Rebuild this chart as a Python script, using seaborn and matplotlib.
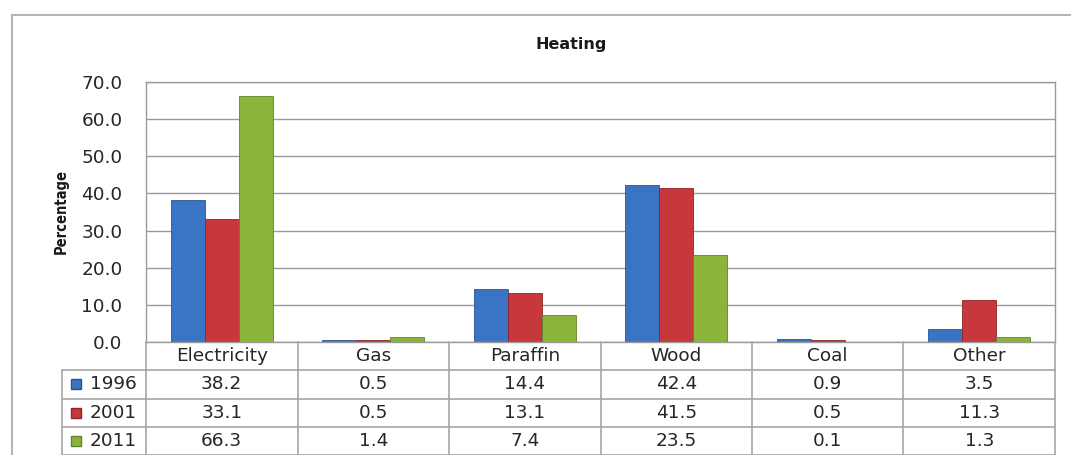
import matplotlib
matplotlib.use("Agg")
import matplotlib.pyplot as plt
import seaborn as sns
import pandas as pd
from matplotlib.patches import Rectangle

categories = ["Electricity", "Gas", "Paraffin", "Wood", "Coal", "Other"]
years = ["1996", "2001", "2011"]
v1996 = [38.2, 0.5, 14.4, 42.4, 0.9, 3.5]
v2001 = [33.1, 0.5, 13.1, 41.5, 0.5, 11.3]
v2011 = [66.3, 1.4, 7.4, 23.5, 0.1, 1.3]
yticks = [0, 10, 20, 30, 40, 50, 60, 70]
colors = ["#3b74c4", "#c6383b", "#8bb43a"]
edges = ["#2a5490", "#8e2426", "#63822a"]

series = [v1996, v2001, v2011]
df = pd.DataFrame({
    "category": categories * 3,
    "year": [y for y in years for _ in categories],
    "value": v1996 + v2001 + v2011,
})

sns.set_theme(style="white")
plt.rcParams["font.family"] = ["DejaVu Sans"]
W, H = 1071, 455
fig = plt.figure(figsize=(W / 100, H / 100), dpi=100)
FS = 13.3
TC = "#262626"

# outer frame
fig.patches.append(Rectangle((12 / W, -0.2), 1.2, 1 - 15 / H + 0.2, transform=fig.transFigure,
                             fill=False, edgecolor="#b5b5b5", linewidth=1.5))

px_l, px_r, px_t, px_b = 146, 1055, 82, 342
ax = fig.add_axes([px_l / W, 1 - px_b / H, (px_r - px_l) / W, (px_b - px_t) / H])
sns.barplot(data=df, x="category", y="value", hue="year", palette=colors, width=0.67,
            ax=ax, legend=False, saturation=1, edgecolor="none")
for i, cont in enumerate(ax.containers):
    for bar in cont:
        bar.set_edgecolor(edges[i])
        bar.set_linewidth(0.6)
ax.set_ylim(0, 70)
ax.set_xlim(-0.5, 5.5)
ax.set_yticks(yticks)
ax.set_yticklabels([f"{t:.1f}" for t in yticks], fontsize=FS, color=TC)
ax.set_xticks([])
ax.set_xlabel("")
ax.set_ylabel("")
ax.yaxis.grid(True, color="#9a9a9a", linewidth=1)
ax.set_axisbelow(True)
ax.tick_params(axis="y", length=0, pad=17)
for s in ax.spines.values():
    s.set_color("#9a9a9a")
    s.set_linewidth(1)

fig.text(571 / W, 1 - 45 / H, "Heating", ha="center", va="center", fontsize=11.5,
         fontweight="bold", color="#1a1a1a")
fig.text(61 / W, 1 - 212 / H, "Percentage", ha="center", va="center", rotation=90,
         fontsize=10.5, fontweight="bold", color="#1a1a1a", fontstretch="condensed")

# data table
cw = (px_r - px_l) / 6
left_col = (px_l - 62) / cw
xl = -0.5 - left_col
tax = fig.add_axes([62 / W, 0, (px_r - 62) / W, 1 - px_b / H])
tax.set_xlim(xl, 5.5)
tax.set_ylim(4, 0)
tax.axis("off")
lc = "#a6a6a6"
for r in range(1, 5):
    tax.plot([xl, 5.5], [r, r], color=lc, lw=1.2, clip_on=False)
tax.plot([xl, xl], [1, 4], color=lc, lw=1.2, clip_on=False)
for k in range(7):
    tax.plot([k - 0.5, k - 0.5], [0, 4], color=lc, lw=1.2, clip_on=False)
for j, c in enumerate(categories):
    tax.text(j, 0.5, c, ha="center", va="center", fontsize=FS, color=TC)
for i, (yr, vals) in enumerate(zip(years, series)):
    tax.plot([xl + 14 / cw], [i + 1.5], marker="s", markersize=7.5, color=colors[i],
             markeredgecolor=edges[i], clip_on=False)
    tax.text(xl + 28 / cw, i + 1.5, yr, ha="left", va="center", fontsize=FS, color=TC)
    for j, v in enumerate(vals):
        tax.text(j, i + 1.5, f"{v:.1f}", ha="center", va="center", fontsize=FS, color=TC)

fig.savefig("out.png", dpi=100)
